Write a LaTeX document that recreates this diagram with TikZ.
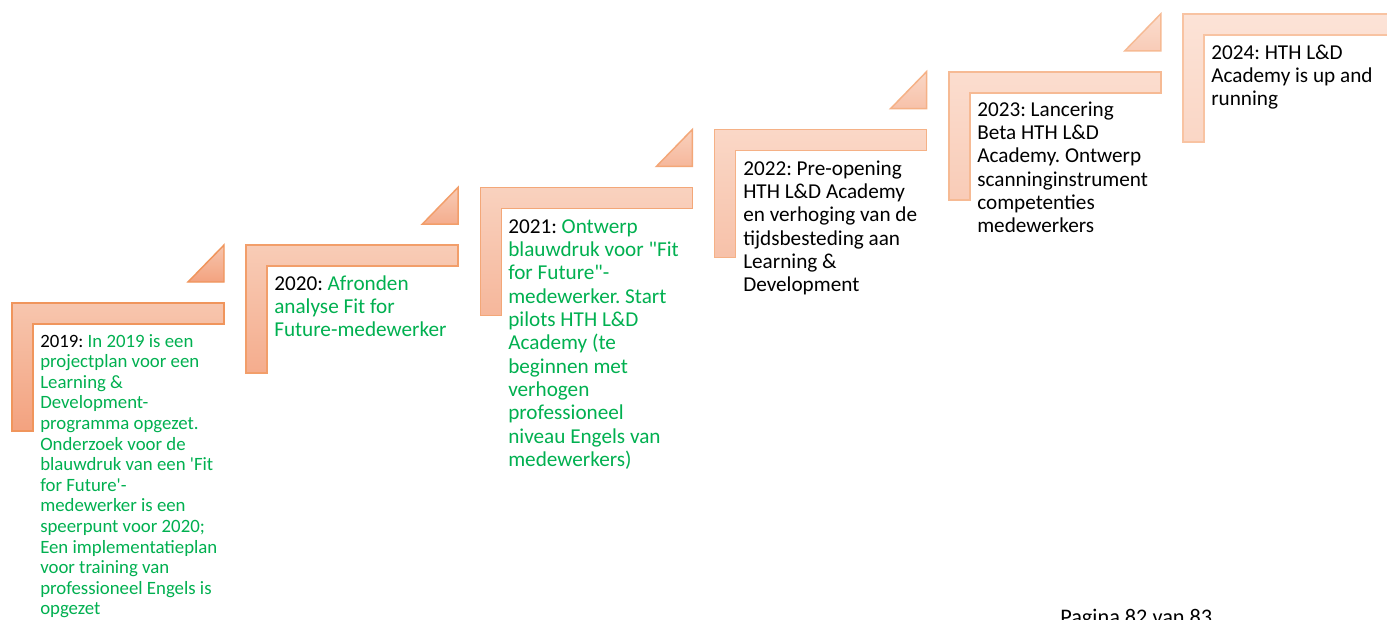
\documentclass[tikz,border=0pt]{standalone}
\usepackage{fontspec}
\setmainfont{Carlito}
\newfontfamily\carlplain{Carlito}
\definecolor{sAtop}{HTML}{F7C6AE}
\definecolor{sAbot}{HTML}{F3A27F}
\definecolor{sAbrd}{HTML}{F0955C}
\definecolor{sFtop}{HTML}{FCE3D7}
\definecolor{sFbot}{HTML}{FAD6C5}
\definecolor{sFbrd}{HTML}{F8C3A2}
\definecolor{txtgreen}{HTML}{00B050}
\frenchspacing
\newcommand{\smallstepfont}{\carlplain\fontsize{14.1pt}{15.45pt}\selectfont\frenchspacing}
\newcommand{\stepfont}{\carlplain\fontsize{15.9pt}{17.5pt}\selectfont\frenchspacing}
\newcommand{\gr}[1]{\textcolor{txtgreen}{#1}}
\begin{document}
\begin{tikzpicture}[x=0.75pt,y=-0.75pt,
  stepfill/.style={draw=sFbrd!#1!sAbrd, line width=1.1pt, line join=miter,
    top color=sFtop!#1!sAtop, bottom color=sFbot!#1!sAbot},
  steptext/.style={anchor=base west, inner sep=0pt, text=black}]
\useasboundingbox (0,0) rectangle (1387,619);
\clip (0,0) rectangle (1387,619);
\fill[white] (0,0) rectangle (1387,619);
\foreach \i in {0,...,5} {
  \pgfmathsetmacro\L{12+234.2*\i}
  \pgfmathsetmacro\T{303-57.8*\i}
  \pgfmathtruncatemacro\p{20*\i}
  \draw[stepfill=\p] (\L,\T) -- ++(212,0) -- ++(0,21) -- ++(-191,0) -- ++(0,107) -- ++(-21,0) -- cycle;
  \ifnum\i<5
    \draw[stepfill=\p] (\L+176,\T-21) -- ++(36,0) -- ++(0,-37) -- cycle;
  \fi
}
\node[steptext] (t2019) at (40,347) {\parbox[t]{300pt}{\raggedright\smallstepfont
2019: \gr{In 2019 is een}\\
\gr{projectplan voor een}\\
\gr{Learning \&}\\
\gr{Development-}\\
\gr{programma opgezet.}\\
\gr{Onderzoek voor de}\\
\gr{blauwdruk van een 'Fit}\\
\gr{for Future'-}\\
\gr{medewerker is een}\\
\gr{speerpunt voor 2020;}\\
\gr{Een implementatieplan}\\
\gr{voor training van}\\
\gr{professioneel Engels is}\\
\gr{opgezet}}};
\node[steptext] (t2020) at (274,290) {\parbox[t]{300pt}{\raggedright\stepfont
2020: \gr{Afronden}\\
\gr{analyse Fit for}\\
\gr{Future-medewerker}}};
\node[steptext] (t2021) at (508,233) {\parbox[t]{300pt}{\raggedright\stepfont
2021: \gr{Ontwerp}\\
\gr{blauwdruk voor "Fit}\\
\gr{for Future"-}\\
\gr{medewerker. Start}\\
\gr{pilots HTH L\&D}\\
\gr{Academy (te}\\
\gr{beginnen met}\\
\gr{verhogen}\\
\gr{professioneel}\\
\gr{niveau Engels van}\\
\gr{medewerkers)}}};
\node[steptext] (t2022) at (743,175) {\parbox[t]{300pt}{\raggedright\stepfont
2022: Pre-opening\\
HTH L\&D Academy\\
en verhoging van de\\
tijdsbesteding aan\\
Learning \&\\
Development}};
\node[steptext] (t2023) at (977,116) {\parbox[t]{300pt}{\raggedright\stepfont
2023: Lancering\\
Beta HTH L\&D\\
Academy. Ontwerp\\
scanninginstrument\\
competenties\\
medewerkers}};
\node[steptext] (t2024) at (1211,59) {\parbox[t]{300pt}{\raggedright\stepfont
2024: HTH L\&D\\
Academy is up and\\
running}};
\node[steptext, font=\carlplain\fontsize{16.7pt}{18pt}\selectfont] (page) at (1060,624.5) {Pagina 82 van 83};
\end{tikzpicture}
\end{document}
